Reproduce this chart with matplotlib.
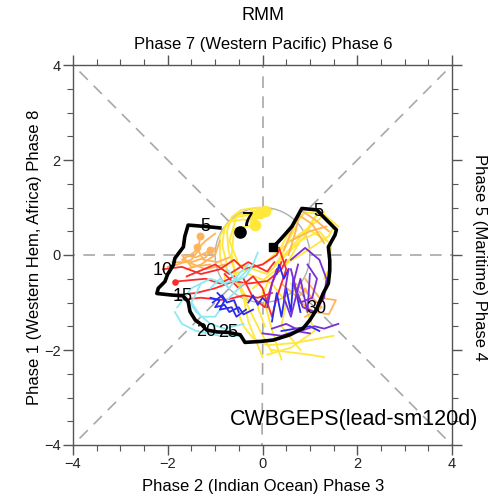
import numpy as np
import matplotlib
matplotlib.use("Agg")
import matplotlib.pyplot as plt

plt.rcParams['font.family'] = ['Liberation Sans', 'DejaVu Sans']

# ---------------- data ----------------
obs_x = [-0.90, -1.20, -1.57, -1.64, -1.67, -1.85, -1.88, -2.00, -2.06, -2.20, -2.23, -1.95, -1.68,
         -1.57, -1.53, -1.42, -1.28, -1.18, -0.95, -0.72, -0.47, -0.37, -0.05, 0.23, 0.58, 0.86, 1.00,
         1.14, 1.28, 1.39, 1.42, 1.42, 1.39, 1.53, 1.56, 1.25, 1.15, 0.83, 0.62, 0.40, 0.23]
obs_y = [0.57, 0.60, 0.63, 0.39, 0.17, -0.07, -0.21, -0.40, -0.56, -0.70, -0.81, -0.84, -0.86,
         -0.98, -1.19, -1.37, -1.47, -1.58, -1.62, -1.63, -1.68, -1.84, -1.82, -1.79, -1.68, -1.54, -1.37,
         -1.15, -0.81, -0.60, -0.32, -0.11, 0.17, 0.42, 0.53, 0.84, 0.95, 0.98, 0.60, 0.35, 0.17]
day_labels = ["5", "10", "15", "20", "25", "30", "5"]
day_x = [-1.21, -2.10, -1.68, -1.19, -0.73, 1.14, 1.18]
day_y = [0.59, -0.32, -0.88, -1.60, -1.64, -1.12, 0.91]
start_label = "7"
start_x, start_y = -0.47, 0.49
end_x, end_y = 0.23, 0.17

yellow_lines = [
    [(0.20, 0.95), (-0.10, 1.00), (-0.45, 0.95), (-0.65, 0.80), (-0.75, 0.50), (-0.72, 0.10), (-0.60, -0.30), (-0.45, -0.70), (-0.30, -0.95)],
    [(0.00, 0.90), (-0.50, 0.85), (-0.80, 0.60), (-0.85, 0.20), (-0.75, -0.20), (-0.80, -0.50)],
    [(-0.10, 0.65), (-0.40, 0.75), (-0.70, 0.70), (-0.90, 0.40), (-0.90, 0.00), (-0.85, -0.30)],
    [(-0.20, -0.70), (0.30, -0.30), (0.80, 0.00), (1.40, 0.40), (1.50, 0.60)],
    [(-0.60, -0.40), (0.00, -0.20), (0.60, 0.30), (1.20, 0.75), (1.30, 0.90)],
    [(0.30, 0.00), (0.60, 0.55), (0.90, 0.90), (1.30, 0.85), (1.60, 0.60)],
    [(0.50, -0.20), (0.80, 0.30), (1.20, 0.50), (1.45, 0.20), (1.40, -0.30), (1.30, -0.50)],
    [(-0.40, -0.90), (-0.30, -1.40), (-0.10, -1.90), (0.00, -2.15)],
    [(0.00, -0.80), (0.15, -1.40), (0.30, -1.90), (0.40, -2.20)],
    [(0.20, -2.00), (0.60, -2.05), (1.00, -2.10), (1.30, -2.15)],
    [(-0.60, -1.00), (-0.40, -1.50), (-0.20, -1.75), (0.10, -1.90), (0.70, -1.85), (1.50, -1.70)],
    [(0.10, -0.60), (-0.10, -1.10), (0.05, -1.50)],
    [(0.70, 0.60), (0.50, 0.20), (0.35, -0.10)],
    [(-0.05, 0.88), (-0.55, 0.80), (-0.70, 0.30), (-0.50, -0.20), (0.10, -0.40), (0.90, 0.40), (1.10, 0.80)],
    [(-0.16, 0.63), (-0.60, 0.55), (-0.65, 0.00), (-0.55, -0.55), (-0.25, -1.20), (-0.05, -1.60), (0.20, -2.05)],
    [(0.25, -0.20), (0.55, 0.10), (1.00, 0.60), (1.20, 0.95), (0.95, 0.55), (1.35, 0.30)],
    [(-0.30, -0.40), (0.20, -0.60), (0.50, -1.00), (0.40, -1.50), (0.80, -2.00)],
    [(0.60, -0.60), (0.90, -1.10), (1.10, -1.60), (0.60, -1.95), (0.10, -2.10)],
]
yellow_dots_x = [-0.05, -0.16, 0.05, -0.20]
yellow_dots_y = [0.88, 0.63, 0.92, 0.84]

orange_lines = [
    [(-1.32, 0.39), (-1.35, 0.10), (-1.50, -0.10), (-1.80, -0.20), (-2.00, -0.25)],
    [(-1.11, 0.10), (-1.20, -0.05), (-1.50, -0.15), (-1.90, -0.15)],
    [(-1.00, 0.45), (-1.20, 0.30), (-1.45, 0.05), (-1.70, -0.10), (-1.20, -0.30), (-0.80, -0.20)],
    [(-0.90, 0.30), (-1.00, 0.00), (-1.30, -0.20), (-1.60, -0.30)],
    [(-1.39, 0.16), (-1.25, -0.10), (-0.95, -0.15), (-0.70, -0.05)],
    [(-1.00, 0.15), (-1.40, -0.05), (-1.70, 0.00), (-1.50, -0.25), (-1.10, -0.20)],
    [(0.55, 0.00), (0.70, 0.50), (0.80, 0.95), (1.10, 0.75), (1.40, 0.50)],
    [(0.60, 0.30), (1.00, 0.50), (1.35, 0.60)],
    [(0.45, 0.10), (0.75, 0.85), (1.05, 0.65), (1.30, 0.25)],
    [(0.90, -0.50), (1.20, -0.90), (1.55, -0.95), (1.40, -1.25), (1.10, -1.20), (0.80, -1.00)],
    [(0.70, -0.60), (1.00, -0.85), (1.25, -1.10), (0.90, -1.30)],
    [(0.40, -0.60), (0.75, -0.90), (0.90, -0.70), (1.10, -1.00)],
]
orange_dots_x = [-1.32, -1.11, -1.39]
orange_dots_y = [0.39, 0.10, 0.16]

red_lines = [
    [(-2.10, -0.30), (-1.70, -0.25), (-1.30, -0.40), (-0.90, -0.30), (-0.60, -0.10), (-0.40, -0.30), (0.00, -0.20), (0.30, 0.00), (0.35, 0.10)],
    [(-1.90, -0.85), (-1.40, -0.80), (-1.00, -0.70), (-0.60, -0.55), (-0.30, -0.60), (0.10, -0.55), (0.40, -0.30), (0.50, -0.10)],
    [(-1.80, -0.95), (-1.30, -0.90), (-0.80, -0.95), (-0.40, -0.85), (-0.10, -0.90), (0.20, -0.80)],
    [(-0.80, -0.40), (-0.50, -0.70), (-0.20, -0.45), (0.00, -0.70), (0.20, -1.30), (0.30, -0.90), (0.50, -0.30), (0.35, 0.15)],
    [(-1.85, -0.56), (-1.20, -0.50), (-0.90, -0.60), (-0.60, -0.45)],
    [(-1.60, -0.45), (-1.00, -0.20), (-0.70, -0.40), (-0.30, -0.15), (0.10, -0.35), (0.25, -0.15)],
    [(-0.40, -0.50), (-0.20, -0.90), (0.05, -1.10), (0.20, -0.60), (0.40, -0.15)],
]
red_dots_x = [-1.85]
red_dots_y = [-0.56]

cyan_lines = [
    [(-1.80, -1.10), (-1.50, -0.70), (-1.10, -0.50), (-0.80, -0.60), (-0.50, -0.50), (-0.30, -0.30)],
    [(-1.85, -1.20), (-1.70, -1.45), (-1.40, -1.60), (-0.90, -1.70), (-0.50, -1.70)],
    [(-1.30, -0.60), (-1.50, -1.00), (-1.30, -1.30), (-1.00, -1.30), (-0.80, -1.00), (-0.60, -0.80), (-0.40, -0.60)],
    [(-1.10, -0.70), (-0.90, -0.50), (-0.70, -0.70), (-0.50, -0.40), (-0.30, -0.20)],
    [(-1.60, -0.90), (-1.40, -1.20), (-1.10, -1.45), (-0.80, -1.55), (-0.40, -1.45)],
    [(-0.75, -0.30), (-0.55, -0.55), (-0.35, -0.45), (-0.20, -0.20), (-0.10, 0.05)],
]

blue_lines = [
    [(-1.10, -0.90), (-0.90, -0.95), (-1.00, -1.10), (-0.80, -1.05), (-0.70, -1.20), (-0.50, -1.10), (-0.40, -1.25), (-0.20, -1.15)],
    [(-1.05, -1.00), (-0.85, -0.85), (-0.75, -1.00), (-0.60, -0.95), (-0.50, -1.20)],
    [(-0.95, -0.80), (-0.80, -0.95), (-0.90, -1.15), (-0.65, -1.10), (-0.55, -1.30), (-0.35, -1.15)],
    [(-0.30, -1.00), (-0.20, -0.85), (-0.10, -1.05), (0.00, -0.90), (0.10, -1.00)],
    [(0.20, -1.40), (0.30, -0.80), (0.40, -1.30), (0.50, -0.70), (0.60, -1.20), (0.65, -0.50), (0.80, -1.20)],
    [(0.40, -1.60), (0.70, -1.55), (1.00, -1.50), (1.20, -1.60)],
    [(0.30, -0.40), (0.35, -0.20), (0.45, -0.50), (0.55, -0.30)],
]

purple_lines = [
    [(0.60, -0.10), (0.90, 0.15), (1.20, -0.10), (1.35, -0.50), (1.30, -0.90), (1.10, -1.20), (0.85, -1.10), (0.70, -0.70), (0.60, -0.30)],
    [(0.55, -0.30), (0.45, -0.90), (0.60, -1.30), (0.80, -0.50), (0.95, -1.20), (1.00, -0.40)],
    [(0.20, -1.55), (0.50, -1.45), (0.80, -1.60), (1.10, -1.50), (1.30, -1.55), (1.60, -1.45)],
    [(0.00, -1.65), (0.40, -1.70), (0.70, -1.60), (1.00, -1.65)],
    [(0.10, -1.10), (0.20, -0.60), (0.30, -0.30)],
    [(0.75, -0.20), (0.65, -0.60), (0.80, -1.00), (1.05, -0.90), (1.15, -0.50), (0.95, -0.20)],
]

line_colors = {
    "yellow": "#FFE83A",
    "orange": "#FFB45A",
    "red": "#FF2A2A",
    "cyan": "#8EEAF2",
    "blue": "#2A2AF0",
    "purple": "#7A2ED6",
}

ticks = [-4, -2, 0, 2, 4]

# ---------------- figure ----------------
fig = plt.figure(figsize=(4.93, 5.01), dpi=100)
ax = fig.add_axes([73/493, 56/501, 379/493, 380/501])
ax.set_xlim(-4, 4)
ax.set_ylim(-4, 4)

dash_col = "#a8a8a8"
dash_kw = dict(color=dash_col, lw=1.2, dashes=(7, 5), zorder=1)
for ang in np.arange(0, 360, 45):
    a = np.deg2rad(ang)
    r_end = 4 / max(abs(np.cos(a)), abs(np.sin(a)))
    ax.plot([np.cos(a), r_end * np.cos(a)], [np.sin(a), r_end * np.sin(a)], **dash_kw)

th = np.linspace(0, 2 * np.pi, 200)
ax.plot(np.cos(th), np.sin(th), color="#b0b0b0", lw=1.0, zorder=1)

def draw(lines, col, lw=1.3, z=3):
    for ln in lines:
        xs = [p[0] for p in ln]
        ys = [p[1] for p in ln]
        ax.plot(xs, ys, color=col, lw=lw, zorder=z, solid_joinstyle="round")

draw(yellow_lines, line_colors["yellow"], z=2.5)
draw(orange_lines, line_colors["orange"])
draw(red_lines, line_colors["red"])
draw(cyan_lines, line_colors["cyan"])
draw(blue_lines, line_colors["blue"])
draw(purple_lines, line_colors["purple"])
ax.scatter(orange_dots_x, orange_dots_y, s=22, color=line_colors["orange"], zorder=4)
ax.scatter(red_dots_x, red_dots_y, s=14, color=line_colors["red"], zorder=4)
ax.scatter(yellow_dots_x, yellow_dots_y, s=55, color=line_colors["yellow"], zorder=4)

ax.plot(obs_x, obs_y, color="black", lw=2.6, zorder=5, solid_joinstyle="round")
ax.scatter([start_x], [start_y], s=65, color="black", zorder=6)
ax.scatter([end_x], [end_y], s=40, marker="s", color="black", zorder=6)
ax.text(start_x + 0.14, start_y + 0.23, start_label, fontsize=15, fontweight="bold",
        ha="center", va="center", zorder=7)
for lab, x, y in zip(day_labels, day_x, day_y):
    ax.text(x, y, lab, fontsize=13, ha="center", va="center", zorder=7)

ax.text(1.93, -3.47, "CWBGEPS(lead-sm120d)", fontsize=15.5, ha="center", va="center",
        clip_on=False, zorder=8)

ax.set_xticks(ticks)
ax.set_yticks(ticks)
ax.set_xticks(np.arange(-4, 4.01, 0.5), minor=True)
ax.set_yticks(np.arange(-4, 4.01, 0.5), minor=True)
ax.tick_params(which="both", direction="out", top=True, right=True, color="#555555",
               labelsize=10.5, labelcolor="#222222", pad=2)
ax.tick_params(which="major", length=7, width=1)
ax.tick_params(which="minor", length=4, width=0.8)
for s in ax.spines.values():
    s.set_color("#555555")
    s.set_linewidth(1.0)

fig.text(263/493, 1 - 15/501, "RMM", fontsize=13, ha="center", va="center")
fig.text(263/493, 1 - 45/501, "Phase 7 (Western Pacific) Phase 6", fontsize=12, ha="center", va="center")
fig.text(263/493, 1 - 487/501, "Phase 2 (Indian Ocean) Phase 3", fontsize=12, ha="center", va="center")
fig.text(35/493, 1 - 257/501, "Phase 1 (Western Hem, Africa) Phase 8", fontsize=12, rotation=90,
         ha="center", va="center")
fig.text(479/493, 1 - 257/501, "Phase 5 (Maritime) Phase 4", fontsize=12, rotation=270,
         ha="center", va="center")

fig.savefig("out.png", dpi=100)
